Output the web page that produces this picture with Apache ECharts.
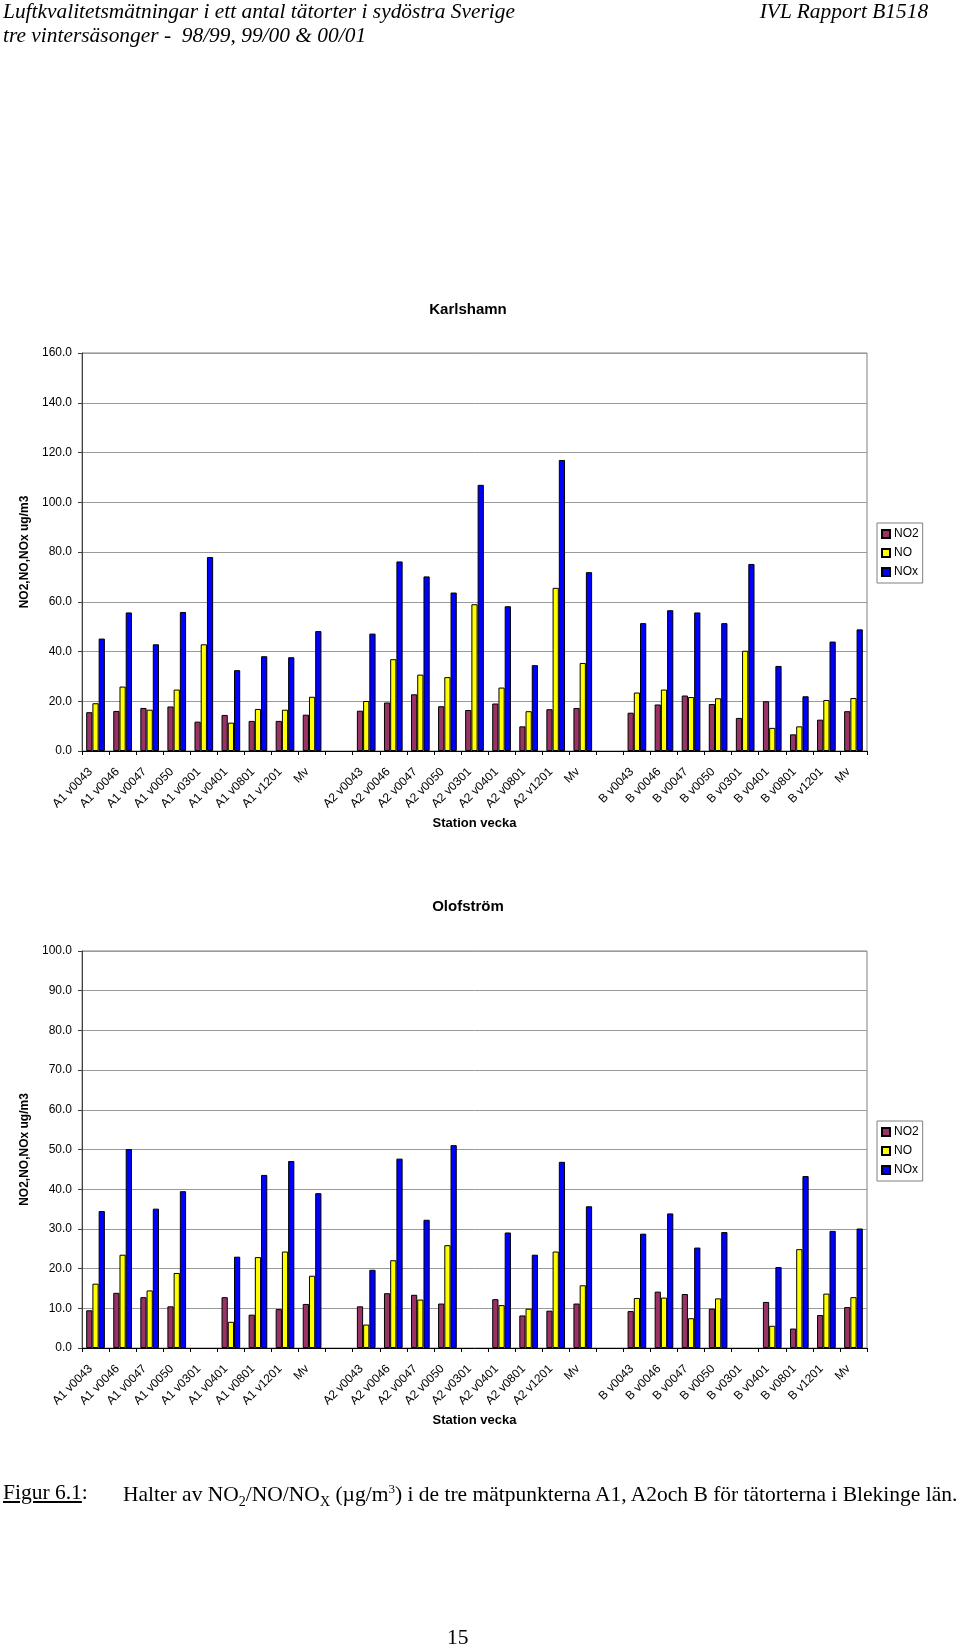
<!DOCTYPE html>
<html>
<head>
<meta charset="utf-8">
<script src="https://cdn.jsdelivr.net/npm/echarts@6/dist/echarts.min.js"></script>
<style>
  html, body { margin:0; padding:0; background:#fff; }
  #page { position:relative; width:960px; height:1648px; overflow:hidden; }
  #chart { position:absolute; left:0; top:0; width:960px; height:1648px; }
  .hdr { position:absolute; font-family:"Liberation Serif","DejaVu Serif",serif; font-style:italic; font-size:22px; color:#000; white-space:nowrap; line-height:1; transform:scaleX(0.973); }
  .cap { position:absolute; font-family:"Liberation Serif","DejaVu Serif",serif; font-size:21.5px; color:#000; white-space:nowrap; line-height:1; }
</style>
</head>
<body>
<div id="page">
  <div id="chart"></div>
  <div class="hdr" style="left:3px; top:0px; transform-origin:left top;">Luftkvalitetsmätningar i ett antal tätorter i sydöstra Sverige</div>
  <div class="hdr" style="left:3px; top:24px; transform-origin:left top;">tre vintersäsonger -&nbsp; 98/99, 99/00 &amp; 00/01</div>
  <div class="hdr" style="right:32px; top:0px; transform-origin:right top;">IVL Rapport B1518</div>
  <div class="cap" style="left:3px; top:1482px;"><span style="text-decoration:underline;">Figur 6.1</span>:</div>
  <div class="cap" style="left:123px; top:1482px;">Halter av NO<sub style="font-size:14px;">2</sub>/NO/NO<sub style="font-size:14px;">X</sub> (µg/m<sup style="font-size:13px;">3</sup>) i de tre mätpunkterna A1, A2och B för tätorterna i Blekinge län.</div>
  <div class="cap" style="left:447px; top:1627px;">15</div>
</div>
<script>
// ---- Data ----
const categories = [
  'A1 v0043','A1 v0046','A1 v0047','A1 v0050','A1 v0301','A1 v0401','A1 v0801','A1 v1201','Mv',
  '',
  'A2 v0043','A2 v0046','A2 v0047','A2 v0050','A2 v0301','A2 v0401','A2 v0801','A2 v1201','Mv',
  '',
  'B v0043','B v0046','B v0047','B v0050','B v0301','B v0401','B v0801','B v1201','Mv'
];
const seriesNames = ['NO2', 'NO', 'NOx'];

// Karlshamn
const karlshamnNO2 = [15.6,16.1,17.3,17.9,11.8,14.5,12.1,12.1,14.6, null, 16.2,19.5,22.8,18.0,16.5,19.1,9.9,16.8,17.3, null, 15.4,18.7,22.3,18.9,13.3,20.0,6.7,12.6,16.0];
const karlshamnNO  = [19.2,25.9,16.6,24.7,42.9,11.4,16.9,16.6,21.8, null, 20.1,36.9,30.7,29.7,59.0,25.5,16.0,65.6,35.4, null, 23.5,24.7,21.7,21.2,40.3,9.3,9.9,20.5,21.3];
const karlshamnNOx = [45.2,55.7,42.9,55.9,78.0,32.5,38.1,37.7,48.2, null, 47.2,76.2,70.2,63.7,107.0,58.2,34.5,117.0,71.9, null, 51.4,56.6,55.7,51.4,75.2,34.2,22.0,44.0,48.9];

// Olofström
const olofstromNO2 = [9.5,13.9,12.8,10.5,null,12.8,8.4,9.8,11.1, null, 10.5,13.8,13.4,11.2,null,12.3,8.2,9.4,11.2, null, 9.3,14.2,13.6,9.9,null,11.6,4.9,8.3,10.3];
const olofstromNO  = [16.2,23.5,14.5,18.9,null,6.6,22.9,24.3,18.2, null, 5.9,22.1,12.2,25.9,null,10.8,9.9,24.3,15.8, null, 12.6,12.7,7.5,12.5,null,5.6,24.9,13.7,12.8];
const olofstromNOx = [34.5,50.1,35.1,39.5,null,23.0,43.6,47.1,39.0, null, 19.7,47.7,32.3,51.1,null,29.1,23.5,46.9,35.7, null, 28.8,33.9,25.3,29.2,null,20.4,43.3,29.5,30.1];

// ---- Styling ----
const COLORS = ['#993366', '#FFFF00', '#0000FF'];
const FONT = 'Liberation Sans, Arial, sans-serif';

function makeXAxis(gridIndex) {
  return {
    type: 'category', gridIndex, data: categories,
    axisLine: { lineStyle: { color: '#000', width: 1 } },
    axisTick: { show: true, length: 4, lineStyle: { color: '#000' } },
    axisLabel: { interval: 0, rotate: 45, margin: 14, padding: [0, 7, 0, 0], color: '#000', fontFamily: FONT, fontSize: 12 },
    name: 'Station vecka', nameLocation: 'middle', nameGap: 66,
    nameTextStyle: { color: '#000', fontFamily: FONT, fontSize: 13, fontWeight: 'bold' },
    splitLine: { show: false }
  };
}
function makeYAxis(gridIndex, max, interval) {
  return {
    type: 'value', gridIndex, min: 0, max, interval,
    axisLine: { show: true, lineStyle: { color: '#404040', width: 1 } },
    axisTick: { show: true, length: 4, lineStyle: { color: '#404040' } },
    axisLabel: { color: '#000', fontFamily: FONT, fontSize: 12, margin: 10, formatter: v => v.toFixed(1) },
    splitLine: { show: true, lineStyle: { color: '#9a9a9a', width: 1 } },
    name: 'NO2,NO,NOx ug/m3', nameLocation: 'middle', nameGap: 50, nameRotate: 90,
    nameTextStyle: { color: '#000', fontFamily: FONT, fontSize: 12, fontWeight: 'bold' }
  };
}
function makeSeries(gridIndex, arrays) {
  return arrays.map((d, i) => ({
    type: 'bar', name: seriesNames[i], data: d,
    xAxisIndex: gridIndex, yAxisIndex: gridIndex,
    barGap: '0%', barCategoryGap: '31%',
    itemStyle: { color: COLORS[i], borderColor: '#000', borderWidth: 1 },
    emphasis: { disabled: true },
    animation: false
  }));
}
function makeLegend(top) {
  return {
    orient: 'vertical', left: 877, top,
    data: seriesNames, icon: 'rect', itemWidth: 8, itemHeight: 8, itemGap: 7,
    padding: [5, 4, 5, 4],
    borderColor: '#808080', borderWidth: 1, backgroundColor: '#fff',
    textStyle: { color: '#000', fontFamily: FONT, fontSize: 12, lineHeight: 12, padding: [0, 0, 0, -1] },
    selectedMode: false
  };
}

const chart = echarts.init(document.getElementById('chart'), null, { renderer: 'canvas' });
chart.setOption({
  animation: false,
  backgroundColor: '#fff',
  title: [
    { text: 'Karlshamn', left: 463, top: 297, textAlign: 'center',
      textStyle: { color: '#000', fontFamily: FONT, fontSize: 15, fontWeight: 'bold' } },
    { text: 'Olofström', left: 463, top: 894, textAlign: 'center',
      textStyle: { color: '#000', fontFamily: FONT, fontSize: 15, fontWeight: 'bold' } }
  ],
  legend: [ makeLegend(523), makeLegend(1121) ],
  grid: [
    { left: 82, top: 353, width: 785, height: 398, show: true, borderColor: '#808080', borderWidth: 1, backgroundColor: 'transparent' },
    { left: 82, top: 951, width: 785, height: 397, show: true, borderColor: '#808080', borderWidth: 1, backgroundColor: 'transparent' }
  ],
  xAxis: [ makeXAxis(0), makeXAxis(1) ],
  yAxis: [ makeYAxis(0, 160, 20), makeYAxis(1, 100, 10) ],
  series: [
    ...makeSeries(0, [karlshamnNO2, karlshamnNO, karlshamnNOx]),
    ...makeSeries(1, [olofstromNO2, olofstromNO, olofstromNOx])
  ]
});
</script>
</body>
</html>
